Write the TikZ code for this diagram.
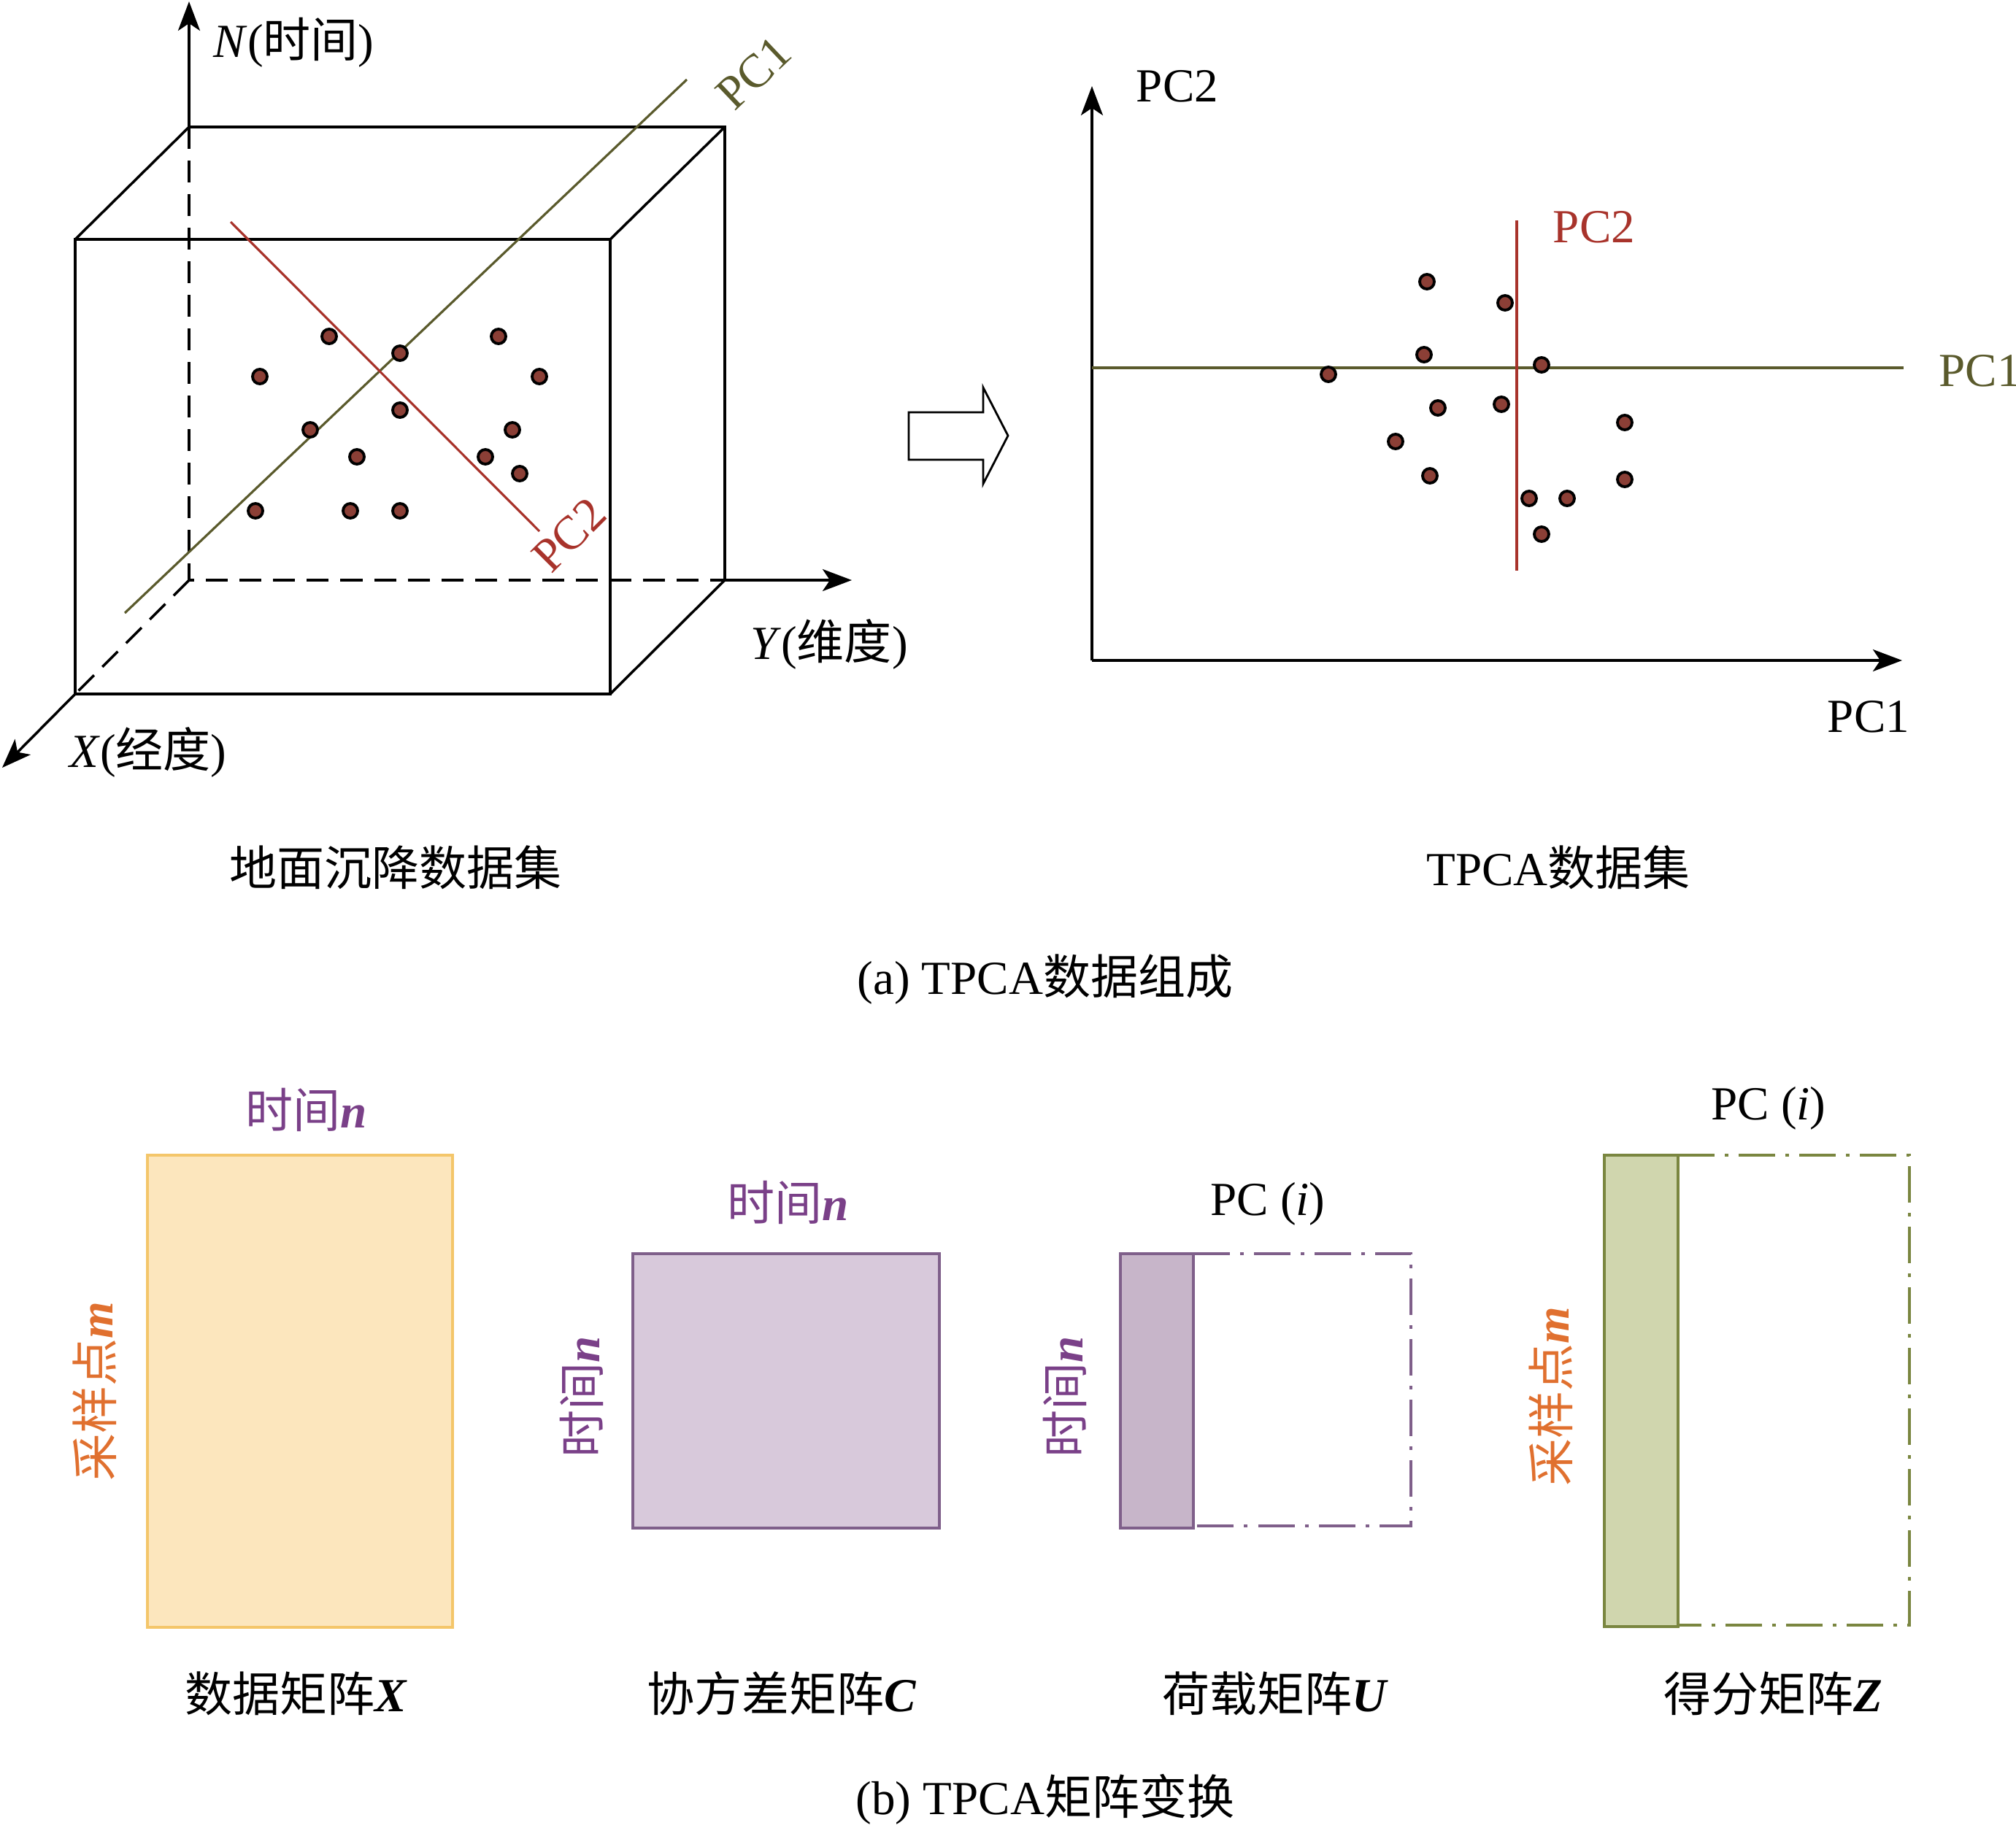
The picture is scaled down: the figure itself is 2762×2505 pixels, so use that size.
\documentclass[tikz,border=0pt]{standalone}
\usepackage{fontspec}
\setmainfont{Liberation Serif}
\newfontfamily\cjk{Noto Sans CJK SC}
\usetikzlibrary{arrows.meta}
\definecolor{dotred}{HTML}{8B3F36}
\definecolor{pcred}{HTML}{A8332B}
\definecolor{pcgreen}{HTML}{5A5A2C}
\definecolor{purpline}{HTML}{7F5F8A}
\definecolor{purpfill}{HTML}{D8C9DB}
\definecolor{purpfilltwo}{HTML}{C7B5C9}
\definecolor{greenline}{HTML}{7A8640}
\definecolor{greenfill}{HTML}{D0D6AE}
\definecolor{yelline}{HTML}{F4C66A}
\definecolor{yelfill}{HTML}{FCE6BD}
\definecolor{orangetxt}{HTML}{E0702F}
\definecolor{purptxt}{HTML}{7A4088}
\tikzset{
  lbl/.style={inner sep=0pt, font=\fontsize{18.5}{22}\selectfont},
  axisarrow/.style={line width=1pt, -{Stealth[length=0.4cm,width=0.3cm,inset=0.1cm]}},
  edge/.style={line width=1pt},
  hidden/.style={line width=1pt, dash pattern=on 0.3cm off 0.16cm},
  dotpt/.style={circle, draw=black, line width=1.1pt, fill=dotred, minimum size=0.2cm, inner sep=0pt},
  pcone/.style={draw=pcgreen, line width=0.9pt},
  pctwo/.style={draw=pcred, line width=0.9pt},
  dashdot/.style={line width=1pt, dash pattern=on 0.5cm off 0.14cm on 0.05cm off 0.14cm},
}
\begin{document}
\begin{tikzpicture}[x=0.01cm,y=-0.01cm]
\useasboundingbox (0,0) rectangle (2762,2505);
% ---- cube ----
\coordinate (BTL) at (259,174);
\coordinate (BTR) at (993,174);
\coordinate (BBR) at (993,795);
\coordinate (BBL) at (259,795);
\coordinate (FTL) at (103,328);
\coordinate (FTR) at (836,328);
\coordinate (FBR) at (836,951);
\coordinate (FBL) at (103,951);
\coordinate (Nend) at (259,2);
\coordinate (Yend) at (1167,795);
\coordinate (Xend) at (3,1052);
\draw[hidden] (BTL) -- (BBL) -- (BBR);
\draw[hidden] (BBL) -- (FBL);
\draw[edge] (FTL) -- (FTR) -- (FBR) -- (FBL) -- cycle;
\draw[edge] (FTL) -- (BTL) -- (BTR) -- (BBR) -- (FBR);
\draw[edge] (BTR) -- (FTR);
\draw[axisarrow] (BTL) -- (Nend);
\draw[axisarrow] (BBR) -- (Yend);
\draw[axisarrow] (FBL) -- (Xend);
% PC lines in cube
\coordinate (pc1a) at (171,840);
\coordinate (pc1b) at (941,109);
\coordinate (pc2a) at (316,304);
\coordinate (pc2b) at (739,728);
\draw[pcone] (pc1a) -- (pc1b);
\draw[pctwo] (pc2a) -- (pc2b);
% dots in cube
\foreach \i/\x/\y in {1/451/461, 2/548/484, 3/683/461, 4/356/516, 5/739/516, 6/548/562, 7/425/589, 8/702/589, 9/489/626, 10/665/626, 11/712/649, 12/350/700, 13/480/700, 14/548/700}
  \node[dotpt] (c\i) at (\x,\y) {};
% cube labels
\node[lbl, anchor=west] (nlab) at (292,58) {\textit{N}({\cjk 时间})};
\node[lbl, text=pcgreen, rotate=43.5] (pc1c) at (1033,100) {PC1};
\node[lbl, text=pcred, rotate=45] (pc2c) at (780,733) {PC2};
\node[lbl] (ylab) at (1136,883) {\textit{Y}({\cjk 维度})};
\node[lbl] (xlab) at (203,1031) {\textit{X}({\cjk 经度})};
\node[lbl] (set1) at (542,1189) {\cjk 地面沉降数据集};
% ---- block arrow ----
\draw[line width=0.8pt] (1245,565) -- (1347,565) -- (1347,531) -- (1381,597) -- (1347,663) -- (1347,630) -- (1245,630) -- cycle;
% ---- right plot ----
\coordinate (O) at (1496,905);
\coordinate (Ytip) at (1496,118);
\coordinate (Xtip) at (2606,905);
\draw[axisarrow] (O) -- (Ytip);
\draw[axisarrow] (O) -- (Xtip);
\coordinate (h1) at (1496,504);
\coordinate (h2) at (2608,504);
\coordinate (v1) at (2078,302);
\coordinate (v2) at (2078,782);
\draw[pcone, line width=1.1pt] (h1) -- (h2);
\draw[pctwo] (v1) -- (v2);
\foreach \i/\x/\y in {1/1955/386, 2/2062/415, 3/1951/486, 4/2112/500, 5/1820/513, 6/1970/559, 7/2057/554, 8/2226/579, 9/1912/605, 10/1959/652, 11/2095/683, 12/2147/683, 13/2226/657, 14/2112/732}
  \node[dotpt] (r\i) at (\x,\y) {};
\node[lbl] (pc2k) at (1613,118) {PC2};
\node[lbl, text=pcred] (pc2r) at (2184,311) {PC2};
\node[lbl, text=pcgreen, anchor=west] (pc1g) at (2656,508) {PC1};
\node[lbl] (pc1k) at (2560,982) {PC1};
\node[lbl] (set2) at (2135,1189) {TPCA{\cjk 数据集}};
\node[lbl] (capa) at (1432,1342) {(a) TPCA{\cjk 数据组成}};
% ---- bottom matrices ----
\draw[draw=yelline, fill=yelfill, line width=1.1pt] (202,1583) rectangle (620,2230);
\node[lbl, text=purptxt] (tn1) at (420,1521) {{\cjk 时间}\textbf{\textit{n}}};
\node[lbl, text=orangetxt, rotate=90] (sm1) at (130,1907) {{\cjk 采样点}\textbf{\textit{m}}};
\node[lbl] (mx) at (406,2321) {{\cjk 数据矩阵}\textbf{\textit{X}}};
\draw[draw=purpline, fill=purpfill, line width=1.1pt] (867,1718) rectangle (1287,2094);
\node[lbl, text=purptxt] (tn2) at (1080,1648) {{\cjk 时间}\textbf{\textit{n}}};
\node[lbl, text=purptxt, rotate=90] (tn3) at (797,1914) {{\cjk 时间}\textbf{\textit{n}}};
\node[lbl] (mc) at (1071,2321) {{\cjk 协方差矩阵}\textbf{\textit{C}}};
\draw[dashdot, draw=purpline] (1635,1718) -- (1933,1718) -- (1933,2091) -- (1635,2091);
\draw[draw=purpline, fill=purpfilltwo, line width=1.1pt] (1535,1718) rectangle (1635,2094);
\node[lbl] (pci1) at (1737,1650) {PC (\textit{i})};
\node[lbl, text=purptxt, rotate=90] (tn4) at (1459,1914) {{\cjk 时间}\textbf{\textit{n}}};
\node[lbl] (mu) at (1747,2321) {{\cjk 荷载矩阵}\textbf{\textit{U}}};
\draw[dashdot, draw=greenline] (2299,1583) -- (2616,1583) -- (2616,2227) -- (2299,2227);
\draw[draw=greenline, fill=greenfill, line width=1.1pt] (2198,1583) rectangle (2299,2229);
\node[lbl] (pci2) at (2423,1519) {PC (\textit{i})};
\node[lbl, text=orangetxt, rotate=90] (sm2) at (2125,1914) {{\cjk 采样点}\textbf{\textit{m}}};
\node[lbl] (mz) at (2429,2321) {{\cjk 得分矩阵}\textbf{\textit{Z}}};
\node[lbl] (capb) at (1432,2466) {(b) TPCA{\cjk 矩阵变换}};
\end{tikzpicture}
\end{document}
